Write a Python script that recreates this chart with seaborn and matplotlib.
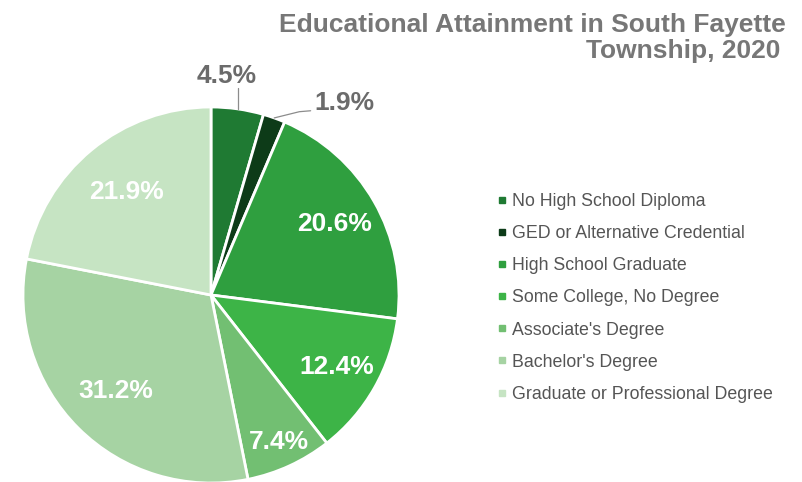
import numpy as np
import matplotlib
matplotlib.use("Agg")
import matplotlib.pyplot as plt
import seaborn as sns
from matplotlib.lines import Line2D

categories = [
    "No High School Diploma",
    "GED or Alternative Credential",
    "High School Graduate",
    "Some College, No Degree",
    "Associate's Degree",
    "Bachelor's Degree",
    "Graduate or Professional Degree",
]
shares = [4.5, 1.9, 20.6, 12.4, 7.4, 31.2, 21.9]
colors = ["#1f7a33", "#0d3b18", "#2f9f3f", "#3db447", "#72bf72", "#a6d3a3", "#c6e4c3"]

sns.set_theme(style="white")
plt.rcParams["font.family"] = ["Liberation Sans", "DejaVu Sans"]

W, H = 802, 482
fig = plt.figure(figsize=(W / 100, H / 100), dpi=100)
fig.patch.set_facecolor("white")

cx, cy, r = 211, 295, 188
ax = fig.add_axes([(cx - r) / W, (H - cy - r) / H, 2 * r / W, 2 * r / H])

wedges, _ = ax.pie(
    shares, colors=colors, startangle=90, counterclock=False, radius=1.0,
    wedgeprops=dict(edgecolor="white", linewidth=2),
)
ax.set_xlim(-1, 1)
ax.set_ylim(-1, 1)
ax.set_aspect("equal")
ax.axis("off")

# radial placement of the percentage labels inside the larger wedges
inside_dist = {2: 0.755, 3: 0.77, 4: 0.86, 5: 0.72, 6: 0.71}
for i, w in enumerate(wedges):
    mid = np.deg2rad((w.theta1 + w.theta2) / 2)
    label = f"{shares[i]:.1f}%"
    if i in inside_dist:
        d = inside_dist[i]
        ax.text(d * np.cos(mid), d * np.sin(mid), label, ha="center", va="center",
                color="white", fontsize=19, fontweight="bold")

# small wedges get outside labels with leader lines
lc = "#8c8c8c"
tc = "#6b6b6b"
m0 = np.deg2rad((wedges[0].theta1 + wedges[0].theta2) / 2)
x0, y0 = np.cos(m0), np.sin(m0)
ax.plot([x0, x0], [y0, 1.10], color=lc, lw=0.9, clip_on=False)
ax.text(0.085, 1.165, f"{shares[0]:.1f}%", ha="center", va="center",
        color=tc, fontsize=19, fontweight="bold")

m1 = np.deg2rad((wedges[1].theta1 + wedges[1].theta2) / 2)
x1, y1 = np.cos(m1), np.sin(m1)
ax.plot([x1, 0.47, 0.53], [y1, 0.975, 0.98], color=lc, lw=0.9, clip_on=False)
ax.text(0.55, 1.02, f"{shares[1]:.1f}%", ha="left", va="center",
        color=tc, fontsize=19, fontweight="bold")

fig.text(786 / W, 1 - 32 / H, "Educational Attainment in South Fayette",
         ha="right", va="baseline", fontsize=19, fontweight="bold", color="#777777")
fig.text(780 / W, 1 - 58 / H, "Township, 2020",
         ha="right", va="baseline", fontsize=19, fontweight="bold", color="#777777")

handles = [Line2D([0], [0], marker="s", linestyle="none", markersize=4,
                  markerfacecolor=c, markeredgecolor=c) for c in colors]
fig.legend(handles, categories, loc="upper left", bbox_to_anchor=(490 / W, 1 - 186 / H),
           frameon=False, fontsize=12.8, labelcolor="#555555", handlelength=0.5,
           handletextpad=0.35, labelspacing=0.85, borderaxespad=0)

fig.savefig("out.png", dpi=100, facecolor="white")
